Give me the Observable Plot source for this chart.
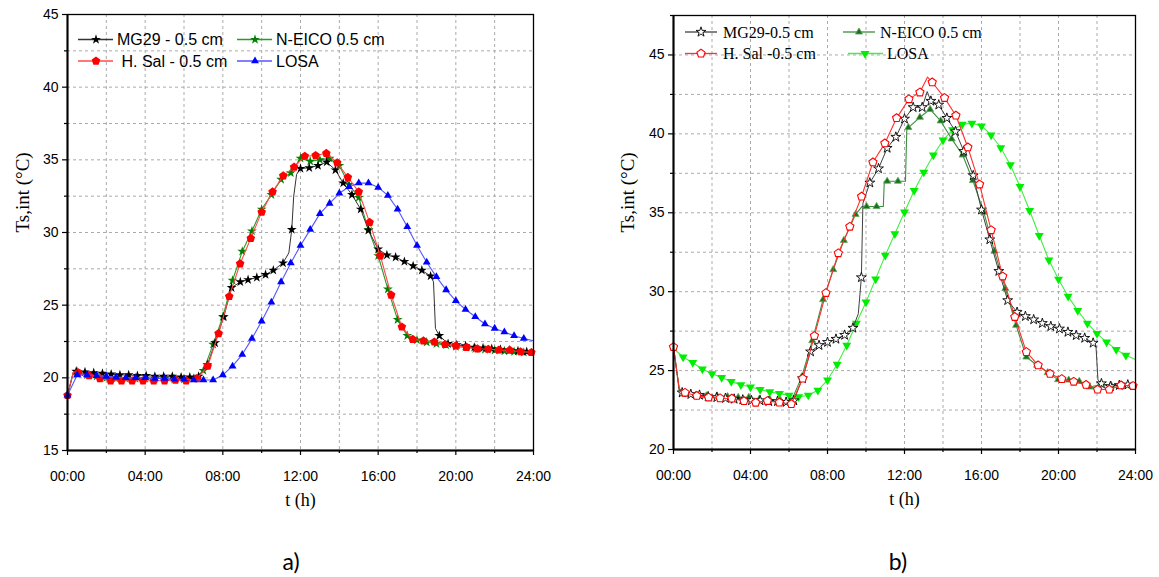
<!DOCTYPE html>
<html><head><meta charset="utf-8">
<script src="https://cdn.jsdelivr.net/npm/d3@7"></script>
<script src="https://cdn.jsdelivr.net/npm/@observablehq/plot@0.6"></script>
<style>
body{margin:0;background:#fff;}
#wrap{position:relative;width:1159px;height:577px;overflow:hidden;background:#fff;}
.panel{position:absolute;top:0;}
.cap{position:absolute;top:548px;font-family:Lato,"Open Sans",sans-serif;font-size:23px;line-height:26px;color:#000;transform:translateX(-50%);}
</style></head><body><div id="wrap"></div>
<script>
// ---------- shared axis data ----------
const xTicks = [0, 4, 8, 12, 16, 20, 24];
const xTickLabels = ["00:00", "04:00", "08:00", "12:00", "16:00", "20:00", "24:00"];
const xMinor = [2, 6, 10, 14, 18, 22];
const xGrid = [2, 4, 6, 8, 10, 12, 14, 16, 18, 20, 22];

// ---------- chart a ----------
const yTicksA = [15, 20, 25, 30, 35, 40, 45];
const yMinorA = [17.5, 22.5, 27.5, 32.5, 37.5, 42.5];
const yGridA = [17.5, 20, 22.5, 25, 27.5, 30, 32.5, 35, 37.5, 40, 42.5];
const legendA = ["MG29 - 0.5 cm", "N-EICO 0.5 cm", " H. Sal - 0.5 cm", "LOSA"];

const tMG_a = [0.45,0.9,1.35,1.8,2.25,2.7,3.15,3.6,4.05,4.5,4.95,5.4,5.85,6.3,6.75,7.2,7.6,8.05,8.45,8.9,9.3,9.75,10.2,10.6,11.1,11.55,12.0,12.45,12.9,13.35,13.8,14.2,14.65,15.1,15.5,16.0,16.45,16.9,17.35,17.8,18.25,18.7,19.15,19.6,20.05,20.5,20.95,21.4,21.85,22.3,22.75,23.2,23.65];
const vMG_a = [20.45,20.4,20.35,20.3,20.25,20.2,20.2,20.15,20.15,20.1,20.1,20.1,20.05,20.05,20.1,20.9,22.4,24.2,26.2,26.6,26.75,26.9,27.1,27.4,27.9,30.2,34.4,34.45,34.6,34.85,34.3,33.4,32.6,31.6,30.15,28.85,28.45,28.3,28.0,27.7,27.4,27.0,22.9,22.35,22.27,22.2,22.1,22.05,22.0,21.95,21.9,21.85,21.8];
const tMG_a_line = [0, 0.3, 11.4, 11.65, 11.8, 18.85, 18.95, 24];
const vMG_a_line = [18.8, 20.4, 28.6, 32.5, 34.0, 26.6, 23.4, 21.75];

const tNE_a = [0.5,1,1.5,2,2.5,3,3.5,4,4.5,5,5.5,6,6.5,7,7.5,8,8.5,9,9.5,10,10.5,11,11.5,12,12.5,13,13.5,14,14.5,15,15.5,16,16.5,17,17.5,18,18.5,19,19.5,20,20.5,21,21.5,22,22.5,23,23.5];
const vNE_a = [20.4,20.2,20.1,20.0,19.95,19.95,19.95,19.95,19.95,19.95,19.9,19.9,19.95,20.5,22.3,24.2,26.7,28.7,30.1,31.6,32.6,33.65,34.1,35.1,34.9,35.0,35.1,34.6,33.3,32.4,30.2,28.4,26.1,24.0,22.9,22.6,22.45,22.35,22.25,22.15,22.1,22.0,21.95,21.9,21.85,21.8,21.75];
const tNE_a_line = [0, 0.3, 24];
const vNE_a_line = [18.8, 20.35, 21.7];

const tHS_a = [0,0.56,1.11,1.67,2.22,2.78,3.33,3.89,4.44,5.0,5.56,6.11,6.67,7.22,7.78,8.33,8.89,9.44,10.0,10.56,11.11,11.67,12.22,12.78,13.33,13.89,14.44,15.0,15.56,16.11,16.67,17.22,17.78,18.33,18.89,19.44,20.0,20.56,21.11,21.67,22.22,22.78,23.33,23.89];
const vHS_a = [18.8,20.35,20.15,19.95,19.8,19.8,19.8,19.8,19.8,19.8,19.85,19.8,19.95,20.8,23.05,25.6,27.85,29.6,31.4,32.8,33.9,34.5,35.25,35.3,35.45,34.8,33.8,32.8,30.7,28.4,25.7,23.5,22.65,22.55,22.47,22.3,22.2,22.1,22.0,21.97,21.92,21.9,21.8,21.75];
const tHS_a_line = [0.3, 24];
const vHS_a_line = [20.4, 21.7];

const tLO_a = [0,0.5,1,1.5,2,2.5,3,3.5,4,4.5,5,5.5,6,6.5,7,7.5,8,8.5,9,9.5,10,10.5,11,11.5,12,12.5,13,13.5,14,14.5,15,15.5,16,16.5,17,17.5,18,18.5,19,19.5,20,20.5,21,21.5,22,22.5,23,23.5];
const vLO_a = [18.8,20.2,20.2,20.15,20.1,20.05,20.0,20.0,20.0,19.95,19.95,19.9,19.9,19.85,19.85,19.85,20.2,20.8,21.6,22.7,23.9,25.2,26.6,27.9,29.1,30.2,31.3,32.0,32.7,33.15,33.4,33.4,33.1,32.55,31.6,30.4,29.1,27.95,26.95,26.05,25.3,24.7,24.2,23.7,23.4,23.15,22.9,22.7];
const tLO_a_line = [24];
const vLO_a_line = [22.55];

// ---------- chart b ----------
const yTicksB = [20, 25, 30, 35, 40, 45];
const yMinorB = [22.5, 27.5, 32.5, 37.5, 42.5, 47.5];
const yGridB = [22.5, 25, 27.5, 30, 32.5, 35, 37.5, 40, 42.5, 45];
const legendB = ["MG29-0.5 cm", "N-EICO 0.5 cm", "H. Sal -0.5 cm", "LOSA"];

const tMG_b = [0.45,0.9,1.35,1.8,2.25,2.7,3.15,3.6,4.05,4.5,4.95,5.4,5.85,6.25,6.7,7.12,7.56,8.0,8.44,8.89,9.32,9.76,10.2,10.65,11.1,11.55,12.0,12.45,12.92,13.37,13.78,14.2,14.65,15.08,15.57,16.0,16.43,16.9,17.36,17.85,18.28,18.71,19.16,19.6,20.05,20.49,20.92,21.36,21.8,22.23,22.7,23.16,23.6];
const vMG_b = [23.6,23.5,23.45,23.35,23.3,23.25,23.2,23.15,23.1,23.1,23.05,23.05,23.0,23.1,24.5,26.2,26.6,26.8,27.0,27.25,27.7,30.9,36.9,37.8,39.1,39.8,40.95,41.68,41.68,42.08,41.84,41.0,40.16,38.9,37.36,35.19,33.3,31.3,29.45,28.7,28.44,28.23,28.0,27.8,27.65,27.44,27.23,27.06,26.75,24.18,24.0,24.07,24.1];
const tMG_b_line = [0, 0.3, 9.6, 9.84, 13.18, 21.95, 22.05, 24];
const vMG_b_line = [26.5, 23.8, 28.6, 35.6, 42.68, 26.5, 24.4, 24.0];

const tHS_b = [0,0.6,1.21,1.82,2.42,3.03,3.66,4.27,4.88,5.5,6.12,6.71,7.32,7.92,8.56,9.16,9.77,10.36,10.98,11.59,12.23,12.8,13.44,14.08,14.67,15.29,15.9,16.5,17.1,17.73,18.33,18.94,19.56,20.17,20.79,21.43,22.03,22.64,23.25,23.87];
const vHS_b = [26.5,23.6,23.4,23.3,23.25,23.23,23.07,22.97,23.08,22.98,22.88,24.5,27.2,29.92,32.44,34.12,36.03,38.2,39.4,41.0,42.2,42.63,43.27,42.28,41.16,39.15,36.8,33.9,30.97,28.4,26.18,25.34,24.8,24.47,24.3,24.1,23.8,23.8,24.07,24.03];
const tHS_b_line = [0.3, 13.2, 24];
const vHS_b_line = [23.85, 43.6, 24.0];

const tNE_b = [0.61,1.16,1.71,2.26,2.81,3.36,3.91,4.46,5.01,5.56,6.11,6.66,7.21,7.77,8.3,8.85,9.46,10.03,10.55,11.1,11.66,12.2,12.8,13.33,13.88,14.45,15.02,15.55,16.12,16.67,17.24,17.8,18.33,18.89,19.44,19.98,20.53,21.08,21.62,22.17,22.73,23.3,23.8];
const vNE_b = [23.5,23.45,23.4,23.4,23.35,23.3,23.3,23.2,23.15,23.1,23.05,24.6,26.9,29.5,31.4,33.25,34.9,35.4,35.4,37.0,37.0,40.4,41.05,41.55,40.82,39.68,38.66,37.04,35.04,32.57,30.2,27.87,25.86,25.34,24.87,24.43,24.4,24.32,23.96,24.1,24.07,24.07,24.03];
const tNE_b_line = [0, 0.3, 9.8, 10.9, 10.95, 12.05, 12.12, 24];
const vNE_b_line = [26.5, 23.7, 35.4, 35.4, 37.0, 37.0, 40.3, 24.0];

const tLO_b = [0.5,1,1.5,2,2.5,3,3.5,4,4.5,5,5.5,6,6.5,7,7.5,8,8.5,9,9.5,10,10.5,11,11.5,12,12.5,13,13.5,14,14.5,15,15.5,16,16.5,17,17.5,18,18.5,19,19.5,20,20.5,21,21.5,22,22.5,23,23.5];
const vLO_b = [25.86,25.5,25.1,24.8,24.56,24.3,24.1,23.96,23.8,23.65,23.54,23.44,23.33,23.44,23.75,24.4,25.4,26.6,28.0,29.34,30.8,32.3,33.67,35.05,36.4,37.57,38.65,39.6,40.25,40.6,40.67,40.5,39.93,39.12,38.03,36.66,35.14,33.56,32.0,30.79,29.7,28.8,28.0,27.34,26.8,26.33,25.97];
const tLO_b_line = [0, 24];
const vLO_b_line = [26.4, 25.7];

// ---------- helpers ----------
const pts = (t, v) => t.map((x, i) => ({t: x, v: v[i]}));
const linePts = (t, v, et, ev) => pts(t, v).concat(pts(et, ev)).sort((a, b) => a.t - b.t);

const pentagon = {draw(ctx, size) {
  const R = Math.sqrt(size / Math.PI) * 1.1;
  for (let k = 0; k < 5; k++) {
    const a = -Math.PI / 2 + k * 2 * Math.PI / 5;
    const x = R * Math.cos(a), y = R * Math.sin(a);
    if (k === 0) ctx.moveTo(x, y); else ctx.lineTo(x, y);
  }
  ctx.closePath();
}};
const triUp = {draw(ctx, size) {
  const R = Math.sqrt(size / Math.PI) * 1.2;
  ctx.moveTo(0, -R); ctx.lineTo(R * 0.866, R * 0.5); ctx.lineTo(-R * 0.866, R * 0.5); ctx.closePath();
}};
const triDown = {draw(ctx, size) {
  const R = Math.sqrt(size / Math.PI) * 1.2;
  ctx.moveTo(0, R); ctx.lineTo(-R * 0.866, -R * 0.5); ctx.lineTo(R * 0.866, -R * 0.5); ctx.closePath();
}};

const SANS = '"Liberation Sans", Arial, sans-serif';
const SERIF = '"Liberation Serif", "Times New Roman", serif';

function seriesMarks(s) {
  return [
    Plot.line(linePts(s.t, s.v, s.et, s.ev), {x: "t", y: "v", stroke: s.line, strokeWidth: s.lw || 1, curve: "linear"}),
    Plot.dot(pts(s.t, s.v), {x: "t", y: "v", symbol: s.sym, r: s.r, fill: s.fill, stroke: s.stroke || "none", strokeWidth: s.sw || 1})
  ];
}

function makeChart(cfg) {
  const svg = Plot.plot({
    width: cfg.width, height: 520,
    marginLeft: cfg.ml, marginRight: cfg.mr, marginTop: cfg.mt, marginBottom: cfg.mb,
    style: {fontFamily: SANS, fontSize: "14px", color: "#000", background: "transparent"},
    x: {domain: [0, 24]},
    y: {domain: cfg.yDomain},
    marks: [
      Plot.gridX(xGrid, {stroke: "#ababab", strokeOpacity: 1, strokeDasharray: "3,3", strokeWidth: 1}),
      Plot.gridY(cfg.yGrid, {stroke: "#ababab", strokeOpacity: 1, strokeDasharray: "3,3", strokeWidth: 1}),
      ...cfg.series.flatMap(seriesMarks),
      Plot.frame({stroke: "#000", strokeWidth: 1.3}),
      Plot.ruleX([0], {stroke: "#000", strokeWidth: 2}),
      Plot.ruleY([cfg.yDomain[0]], {stroke: "#000", strokeWidth: 2}),
      Plot.axisX(xTicks, {tickSize: 5, tickPadding: 16, fontSize: 14, fontFamily: SANS, tickFormat: d => xTickLabels[xTicks.indexOf(d)], label: null, strokeWidth: 1.2}),
      Plot.axisX(xMinor, {tickSize: 3, tickFormat: () => "", label: null, strokeWidth: 1.2}),
      Plot.axisY(cfg.yTicks, {tickSize: 5, tickPadding: 4, fontSize: 14, fontFamily: SANS, tickFormat: d => String(d), label: null, strokeWidth: 1.2}),
      Plot.axisY(cfg.yMinor, {tickSize: 3, tickFormat: () => "", label: null, strokeWidth: 1.2}),
      Plot.text(["Ts,int (°C)"], {frameAnchor: "left", rotate: -90, dx: cfg.ylabDx, fontFamily: SERIF, fontSize: 19}),
      Plot.text(["t (h)"], {frameAnchor: "bottom", dy: 55, fontFamily: SERIF, fontSize: 18})
    ]
  });
  // legend
  const g = d3.select(svg).append("g").attr("font-family", cfg.legendFont).attr("font-size", cfg.legendSize).attr("text-anchor", "start");
  cfg.legend.forEach(it => {
    g.append("line").attr("x1", it.x1).attr("x2", it.x2).attr("y1", it.y).attr("y2", it.y)
      .attr("stroke", it.line).attr("stroke-width", 1.3);
    g.append("path").attr("transform", `translate(${it.mx},${it.y})`)
      .attr("d", d3.symbol().type(it.sym).size(Math.PI * it.r * it.r)())
      .attr("fill", it.fill).attr("stroke", it.stroke || "none").attr("stroke-width", it.sw || 1);
    g.append("text").attr("x", it.tx).attr("y", it.y).attr("dy", "0.36em").attr("fill", "#000")
      .attr("text-anchor", "start").style("white-space", "pre").text(it.label);
  });
  return svg;
}

const sA = {
  NE: {t: tNE_a, v: vNE_a, et: tNE_a_line, ev: vNE_a_line, line: "#2a9a2a", lw: 1.1, sym: d3.symbolStar, r: 3.1, fill: "#008000"},
  MG: {t: tMG_a, v: vMG_a, et: tMG_a_line, ev: vMG_a_line, line: "#333333", lw: 1, sym: d3.symbolStar, r: 3.1, fill: "#000000"},
  HS: {t: tHS_a, v: vHS_a, et: tHS_a_line, ev: vHS_a_line, line: "#ff4a4a", lw: 1.1, sym: pentagon, r: 4.1, fill: "#ff0000"},
  LO: {t: tLO_a, v: vLO_a, et: tLO_a_line, ev: vLO_a_line, line: "#5555ff", lw: 1.1, sym: triUp, r: 3.8, fill: "#0000ff"}
};
const chartA = makeChart({
  width: 580, ml: 67, mr: 47, mt: 14, mb: 70,
  yDomain: [15, 45], yTicks: yTicksA, yMinor: yMinorA, yGrid: yGridA, ylabDx: -45,
  series: [sA.NE, sA.MG, sA.HS, sA.LO],
  legendFont: SANS, legendSize: 16,
  legend: [
    {x1: 78, x2: 113, mx: 96, y: 39.5, tx: 117, label: legendA[0], line: "#333", sym: d3.symbolStar, r: 3.1, fill: "#000"},
    {x1: 237, x2: 272, mx: 255, y: 39.5, tx: 276, label: legendA[1], line: "#2a9a2a", sym: d3.symbolStar, r: 3.1, fill: "#008000"},
    {x1: 78, x2: 113, mx: 96, y: 61, tx: 117, label: legendA[2], line: "#ff4a4a", sym: pentagon, r: 4.1, fill: "#ff0000"},
    {x1: 237, x2: 272, mx: 255, y: 61, tx: 276, label: legendA[3], line: "#5555ff", sym: triUp, r: 3.8, fill: "#0000ff"}
  ]
});

const sB = {
  LO: {t: tLO_b, v: vLO_b, et: tLO_b_line, ev: vLO_b_line, line: "#44ee44", lw: 1.1, sym: triDown, r: 4.3, fill: "#00ee00"},
  NE: {t: tNE_b, v: vNE_b, et: tNE_b_line, ev: vNE_b_line, line: "#3a8f3a", lw: 1.1, sym: triUp, r: 3.4, fill: "#1d6f1d", stroke: "#5aa85a", sw: 0.8},
  MG: {t: tMG_b, v: vMG_b, et: tMG_b_line, ev: vMG_b_line, line: "#404040", lw: 1, sym: d3.symbolStar, r: 3.1, fill: "#ffffff", stroke: "#000000", sw: 0.9},
  HS: {t: tHS_b, v: vHS_b, et: tHS_b_line, ev: vHS_b_line, line: "#ff3030", lw: 1.1, sym: pentagon, r: 3.9, fill: "#ffffff", stroke: "#ff0000", sw: 1.1}
};
const chartB = makeChart({
  width: 579, ml: 93, mr: 24, mt: 15, mb: 71,
  yDomain: [20, 47.5], yTicks: yTicksB, yMinor: yMinorB, yGrid: yGridB, ylabDx: -46,
  series: [sB.LO, sB.NE, sB.MG, sB.HS],
  legendFont: SERIF, legendSize: 16,
  legend: [
    {x1: 105, x2: 137, mx: 121, y: 32, tx: 143, label: legendB[0], line: "#404040", sym: d3.symbolStar, r: 3.1, fill: "#fff", stroke: "#000", sw: 0.9},
    {x1: 263, x2: 295, mx: 279, y: 32, tx: 300, label: legendB[1], line: "#3a8f3a", sym: triUp, r: 3.4, fill: "#1d6f1d", stroke: "#5aa85a", sw: 0.8},
    {x1: 105, x2: 137, mx: 121, y: 53.5, tx: 143, label: legendB[2], line: "#ff3030", sym: pentagon, r: 3.9, fill: "#fff", stroke: "#ff0000", sw: 1.1},
    {x1: 268, x2: 303, mx: 285, y: 53.5, tx: 307, label: legendB[3], line: "#44ee44", sym: triDown, r: 4.3, fill: "#00ee00"}
  ]
});

const wrap = document.getElementById("wrap");
const pA = document.createElement("div"); pA.className = "panel"; pA.style.left = "0px"; pA.appendChild(chartA); wrap.appendChild(pA);
const pB = document.createElement("div"); pB.className = "panel"; pB.style.left = "580px"; pB.appendChild(chartB); wrap.appendChild(pB);
const capA = document.createElement("div"); capA.className = "cap"; capA.style.left = "291px"; capA.textContent = "a)"; wrap.appendChild(capA);
const capB = document.createElement("div"); capB.className = "cap"; capB.style.left = "898px"; capB.textContent = "b)"; wrap.appendChild(capB);
</script>
</body></html>
